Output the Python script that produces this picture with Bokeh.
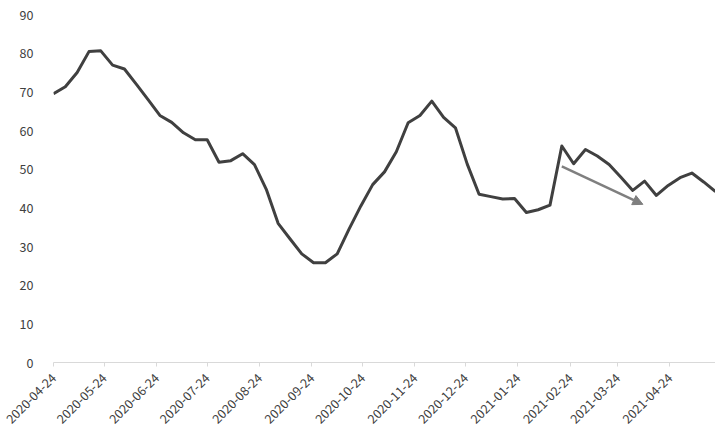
from datetime import datetime
import pandas as pd
from bokeh.plotting import figure
from bokeh.models import Range1d, FixedTicker, DatetimeTickFormatter, Arrow, NormalHead
from bokeh.embed import file_html
from bokeh.resources import INLINE
from math import pi

start_date = "2020-04-24"
values = [69.5, 71.3, 75.0, 80.4, 80.6, 76.9, 75.9, 72.0, 68.0, 63.9,
          62.1, 59.4, 57.6, 57.6, 51.8, 52.2, 54.0, 51.2, 44.8, 36.0,
          32.0, 28.1, 25.8, 25.8, 28.1, 34.5, 40.5, 46.0, 49.3, 54.5,
          62.0, 63.9, 67.6, 63.4, 60.7, 51.3, 43.5, 42.9, 42.3, 42.4,
          38.8, 39.5, 40.7, 56.0, 51.4, 55.1, 53.4, 51.2, 47.9, 44.5,
          46.9, 43.2, 45.8, 47.8, 49.0, 46.7, 44.2]
dates = pd.date_range(start_date, periods=len(values), freq="7D")

tick_labels = ["2020-04-24", "2020-05-24", "2020-06-24", "2020-07-24", "2020-08-24",
               "2020-09-24", "2020-10-24", "2020-11-24", "2020-12-24", "2021-01-24",
               "2021-02-24", "2021-03-24", "2021-04-24"]
y_ticks = [0, 10, 20, 30, 40, 50, 60, 70, 80, 90]

arrow_dates = ["2021-02-19", "2021-04-08"]
arrow_values = [50.7, 40.9]

def ms(d):
    return pd.Timestamp(d).value / 1e6

FONT = "Noto Sans CJK SC"

p = figure(width=715, height=432, x_axis_type="datetime",
           output_backend="svg", toolbar_location=None,
           min_border_left=53, min_border_right=0, min_border_top=14,
           min_border_bottom=70)
p.x_range = Range1d(ms(dates[0]), ms(dates[-1]))
p.y_range = Range1d(0, 90)

p.line(dates, values, line_color="#404040", line_width=3, line_join="round")

p.add_layout(Arrow(end=NormalHead(size=10, fill_color="#7f7f7f", line_color="#7f7f7f"),
                   x_start=ms(arrow_dates[0]), y_start=arrow_values[0],
                   x_end=ms(arrow_dates[1]), y_end=arrow_values[1],
                   line_color="#7f7f7f", line_width=2.5))

p.outline_line_color = None
p.grid.visible = False

xa = p.xaxis[0]
xa.ticker = FixedTicker(ticks=[ms(t) for t in tick_labels])
fmt = "%Y-%m-%d"
xa.formatter = DatetimeTickFormatter(microseconds=fmt, milliseconds=fmt, seconds=fmt,
                                     minsec=fmt, minutes=fmt, hourmin=fmt, hours=fmt,
                                     days=fmt, months=fmt, years=fmt, context=None)
xa.major_label_orientation = pi / 4
xa.axis_line_color = "#d9d9d9"
xa.major_tick_line_color = "#d9d9d9"
xa.major_tick_out = 4
xa.major_tick_in = 0
xa.minor_tick_line_color = None
xa.major_label_text_font = FONT
xa.major_label_text_font_size = "12.5px"
xa.major_label_text_color = "#404040"
xa.major_label_standoff = 9

ya = p.yaxis[0]
ya.ticker = FixedTicker(ticks=y_ticks)
ya.axis_line_color = None
ya.major_tick_line_color = None
ya.minor_tick_line_color = None
ya.major_tick_out = 0
ya.major_tick_in = 0
ya.major_label_standoff = 20
ya.major_label_text_font = FONT
ya.major_label_text_font_size = "12.5px"
ya.major_label_text_color = "#404040"

open("out.html", "w").write(file_html(p, INLINE))
